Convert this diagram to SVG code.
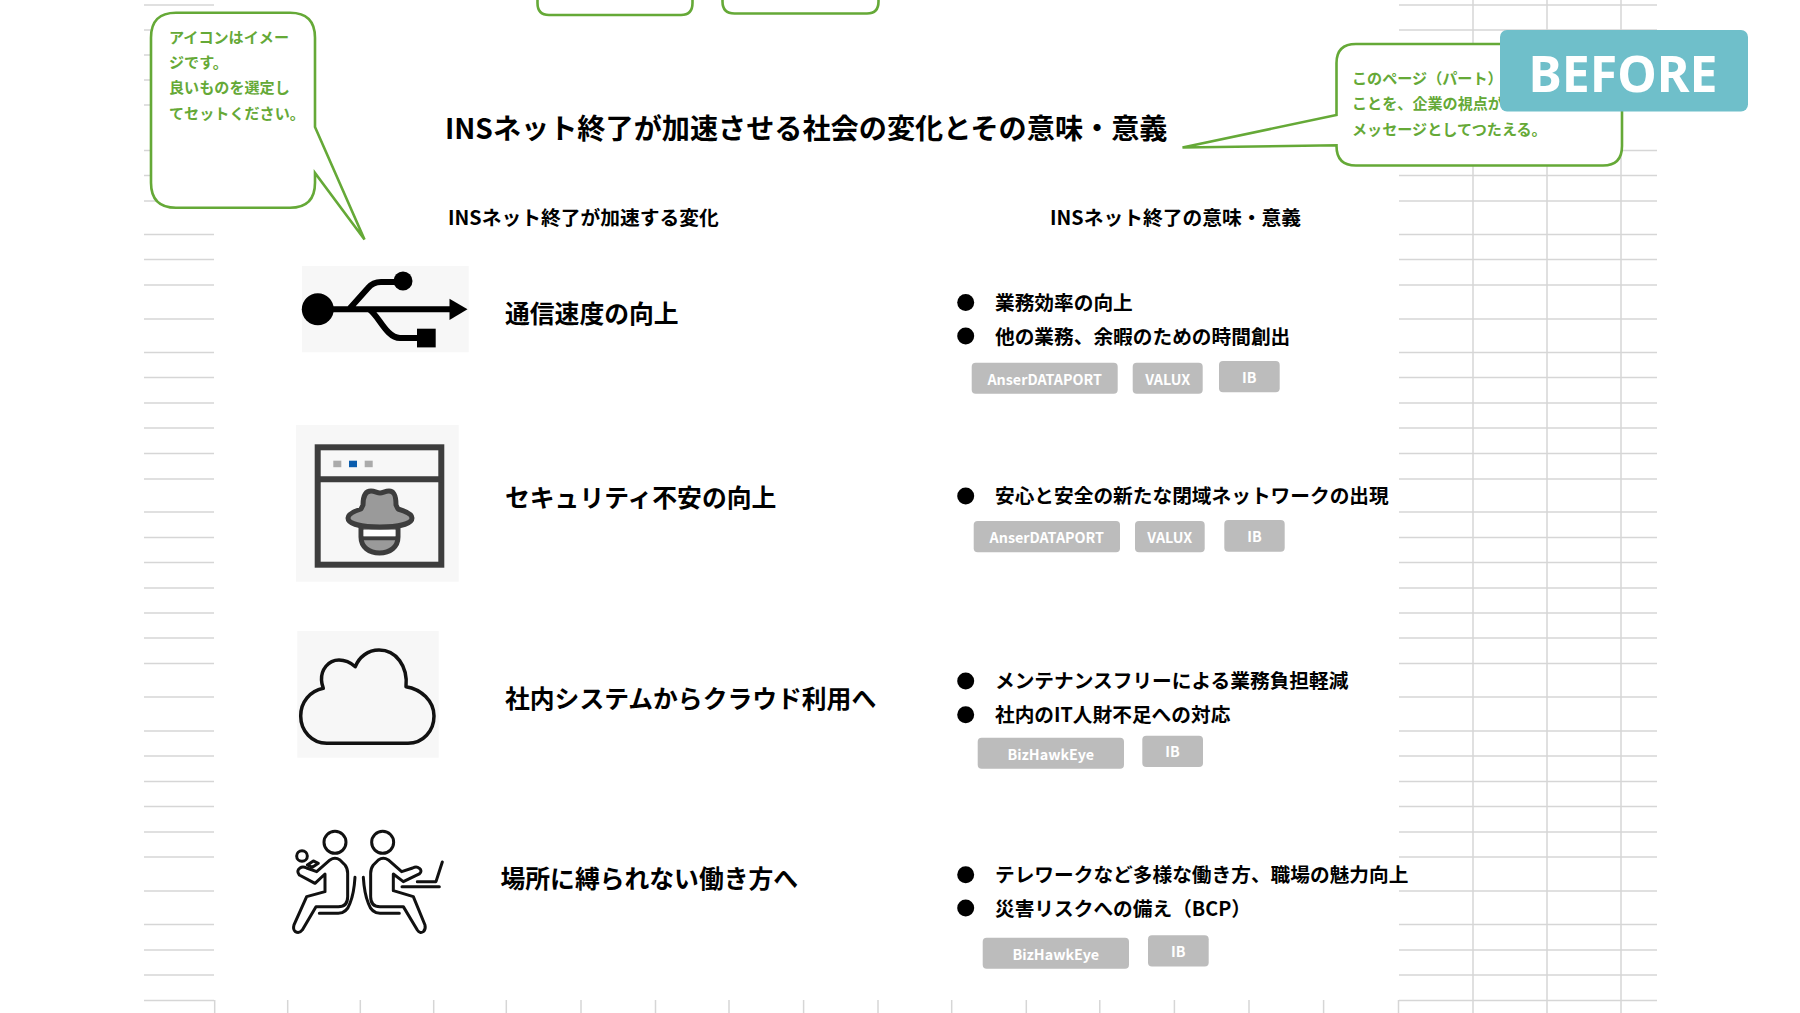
<svg xmlns="http://www.w3.org/2000/svg" width="1800" height="1013" viewBox="0 0 1800 1013">
<style>
text{font-family:"Noto Sans CJK JP","Noto Sans",sans-serif;font-weight:700;fill:#000}
.grid line{stroke:#d6d6d6;stroke-width:1.5}
.call{fill:#fff;stroke:#65a937;stroke-width:2.6;stroke-linejoin:miter}
.callt{font-size:15.1px;fill:#65a937}
.bg{fill:#f7f7f7}
.t1{font-size:24.8px}
.t2{font-size:19.7px;font-weight:600}
.t3{font-size:19.75px}
.tag{fill:#bcbcbc}
.tagt{font-size:14.3px;fill:#fff;text-anchor:middle}
.ln{fill:none;stroke:#111;stroke-width:9;stroke-linejoin:round;stroke-linecap:round}
</style>
<defs>
<circle id="dot" r="8.5" fill="#000"/>
</defs>
<g id="grid" class="grid">
<g id="grid-left">
<line x1="144" x2="214" y1="5" y2="5"/><line x1="144" x2="214" y1="30" y2="30"/><line x1="144" x2="214" y1="55" y2="55"/><line x1="144" x2="214" y1="80" y2="80"/><line x1="144" x2="214" y1="105" y2="105"/><line x1="144" x2="214" y1="150.5" y2="150.5"/><line x1="144" x2="214" y1="175.5" y2="175.5"/><line x1="144" x2="214" y1="201" y2="201"/><line x1="144" x2="214" y1="234.5" y2="234.5"/><line x1="144" x2="214" y1="259.5" y2="259.5"/><line x1="144" x2="214" y1="285" y2="285"/><line x1="144" x2="214" y1="319" y2="319"/><line x1="144" x2="214" y1="352.5" y2="352.5"/><line x1="144" x2="214" y1="377.5" y2="377.5"/><line x1="144" x2="214" y1="403" y2="403"/><line x1="144" x2="214" y1="428" y2="428"/><line x1="144" x2="214" y1="453.5" y2="453.5"/><line x1="144" x2="214" y1="479" y2="479"/><line x1="144" x2="214" y1="512" y2="512"/><line x1="144" x2="214" y1="537.5" y2="537.5"/><line x1="144" x2="214" y1="562.5" y2="562.5"/><line x1="144" x2="214" y1="588" y2="588"/><line x1="144" x2="214" y1="613" y2="613"/><line x1="144" x2="214" y1="638" y2="638"/><line x1="144" x2="214" y1="663.5" y2="663.5"/><line x1="144" x2="214" y1="697" y2="697"/><line x1="144" x2="214" y1="731" y2="731"/><line x1="144" x2="214" y1="756" y2="756"/><line x1="144" x2="214" y1="781.5" y2="781.5"/><line x1="144" x2="214" y1="806.5" y2="806.5"/><line x1="144" x2="214" y1="832" y2="832"/><line x1="144" x2="214" y1="857" y2="857"/><line x1="144" x2="214" y1="891" y2="891"/><line x1="144" x2="214" y1="924.5" y2="924.5"/><line x1="144" x2="214" y1="950" y2="950"/><line x1="144" x2="214" y1="975" y2="975"/><line x1="144" x2="214" y1="1000.5" y2="1000.5"/>
</g>
<g id="grid-right">
<line x1="1399" x2="1657" y1="5" y2="5"/><line x1="1399" x2="1657" y1="30" y2="30"/><line x1="1399" x2="1657" y1="150.5" y2="150.5"/><line x1="1399" x2="1657" y1="175.5" y2="175.5"/><line x1="1399" x2="1657" y1="201" y2="201"/><line x1="1399" x2="1657" y1="234.5" y2="234.5"/><line x1="1399" x2="1657" y1="259.5" y2="259.5"/><line x1="1399" x2="1657" y1="285" y2="285"/><line x1="1399" x2="1657" y1="319" y2="319"/><line x1="1399" x2="1657" y1="352.5" y2="352.5"/><line x1="1399" x2="1657" y1="377.5" y2="377.5"/><line x1="1399" x2="1657" y1="403" y2="403"/><line x1="1399" x2="1657" y1="428" y2="428"/><line x1="1399" x2="1657" y1="453.5" y2="453.5"/><line x1="1399" x2="1657" y1="479" y2="479"/><line x1="1399" x2="1657" y1="512" y2="512"/><line x1="1399" x2="1657" y1="537.5" y2="537.5"/><line x1="1399" x2="1657" y1="562.5" y2="562.5"/><line x1="1399" x2="1657" y1="588" y2="588"/><line x1="1399" x2="1657" y1="613" y2="613"/><line x1="1399" x2="1657" y1="638" y2="638"/><line x1="1399" x2="1657" y1="663.5" y2="663.5"/><line x1="1399" x2="1657" y1="697" y2="697"/><line x1="1399" x2="1657" y1="731" y2="731"/><line x1="1399" x2="1657" y1="756" y2="756"/><line x1="1399" x2="1657" y1="781.5" y2="781.5"/><line x1="1399" x2="1657" y1="806.5" y2="806.5"/><line x1="1399" x2="1657" y1="832" y2="832"/><line x1="1399" x2="1657" y1="857" y2="857"/><line x1="1399" x2="1657" y1="891" y2="891"/><line x1="1399" x2="1657" y1="924.5" y2="924.5"/><line x1="1399" x2="1657" y1="950" y2="950"/><line x1="1399" x2="1657" y1="975" y2="975"/><line x1="1399" x2="1657" y1="1000.5" y2="1000.5"/>
<line x1="1473" x2="1473" y1="0" y2="1013"/><line x1="1547" x2="1547" y1="0" y2="1013"/><line x1="1621" x2="1621" y1="0" y2="1013"/>
</g>
<g id="grid-ticks">
<line x1="214.7" x2="214.7" y1="1000" y2="1013"/><line x1="287.7" x2="287.7" y1="1000" y2="1013"/><line x1="360.3" x2="360.3" y1="1000" y2="1013"/><line x1="433.7" x2="433.7" y1="1000" y2="1013"/><line x1="506.3" x2="506.3" y1="1000" y2="1013"/><line x1="581" x2="581" y1="1000" y2="1013"/><line x1="655.5" x2="655.5" y1="1000" y2="1013"/><line x1="729" x2="729" y1="1000" y2="1013"/><line x1="803.6" x2="803.6" y1="1000" y2="1013"/><line x1="878" x2="878" y1="1000" y2="1013"/><line x1="951.7" x2="951.7" y1="1000" y2="1013"/><line x1="1026.3" x2="1026.3" y1="1000" y2="1013"/><line x1="1099.8" x2="1099.8" y1="1000" y2="1013"/><line x1="1174.4" x2="1174.4" y1="1000" y2="1013"/><line x1="1249" x2="1249" y1="1000" y2="1013"/><line x1="1323.6" x2="1323.6" y1="1000" y2="1013"/><line x1="1398.5" x2="1398.5" y1="1000" y2="1013"/>
</g>
</g>
<g id="top-boxes">
<path class="call" d="M537.500 -4V3Q537.500 15 549 15H681Q692.500 15 692.500 3V-4"/>
<path class="call" d="M722.500 -4V1.500Q722.500 13.500 734.500 13.500H867Q878.500 13.500 878.500 1.500V-4"/>
</g>
<g id="callout-left">
<path class="call" d="M176 12.700H290Q315 12.700 315 37.700V127L364.500 239.500L315 173V182.700Q315 207.700 290 207.700H176Q151 207.700 151 182.700V37.700Q151 12.700 176 12.700Z"/>
<text class="callt" x="169" y="42.500">アイコンはイメー</text>
<text class="callt" x="169" y="68">ジです。</text>
<text class="callt" x="169" y="93">良いものを選定し</text>
<text class="callt" x="169" y="118.500">てセットください。</text>
</g>
<g id="callout-right">
<path class="call" d="M1356 44H1603Q1622 44 1622 63V146Q1622 165.500 1603 165.500H1356Q1336.500 165.500 1336.500 146V145.300L1182.500 147.500L1336.500 115V63Q1336.500 44 1356 44Z"/>
<text class="callt" x="1352" y="84">このページ（パート）</text>
<text class="callt" x="1352" y="109">ことを、企業の視点が</text>
<text class="callt" x="1352" y="134.500">メッセージとしてつたえる。</text>
</g>
<g id="before">
<rect x="1500" y="30" width="248" height="81.500" rx="7" fill="#6fbfca"/>
<text x="1623" y="91.500" font-size="50" text-anchor="middle" style="fill:#fff;font-family:'Noto Sans','Noto Sans CJK JP',sans-serif;font-weight:700">BEFORE</text>
</g>
<g id="title">
<text x="445" y="139" font-size="28.15">INSネット終了が加速させる社会の変化とその意味・意義</text>
</g>
<g id="heading-left"><text class="t3" x="448" y="224.800">INSネット終了が加速する変化</text></g>
<g id="heading-right"><text class="t3" x="1050" y="224.800">INSネット終了の意味・意義</text></g>
<g id="icon-usb">
<rect class="bg" x="302" y="266" width="166.700" height="86.300"/>
<circle cx="317.800" cy="309.300" r="16"/>
<circle cx="403" cy="281" r="9.500"/>
<rect x="417" y="328.700" width="18.700" height="18.700"/>
<path d="M449.500 298.700L467.500 309.300L449.500 320Z"/>
<path d="M320 309.300H452M349 309.300L368 288Q373 282 381 282H400M369 309.300C378 314 386 338 400 338H420" fill="none" stroke="#000" stroke-width="6"/>
</g>
<g id="icon-hat">
<rect class="bg" x="296" y="425" width="162.700" height="156.700"/>
<rect x="317.700" y="447.300" width="123.600" height="117.400" fill="none" stroke="#3d3d3d" stroke-width="6"/>
<line x1="317" x2="442" y1="479.300" y2="479.300" stroke="#3d3d3d" stroke-width="6"/>
<rect x="333.300" y="460.700" width="8" height="6.500" fill="#aaa"/><rect x="349" y="460.700" width="8" height="6.500" fill="#0a5cad"/><rect x="364.700" y="460.700" width="8" height="6.500" fill="#aaa"/>
<path d="M361 526V537C361 547 369 553 379.500 553C390 553 398 547 398 537V526Z" fill="#9a9a9a" stroke="#3d3d3d" stroke-width="5"/>
<rect x="363.500" y="530" width="32" height="6" fill="#fff"/>
<line x1="362" x2="397" y1="538.500" y2="538.500" stroke="#3d3d3d" stroke-width="3.500"/>
<path d="M363 505C363 495 366 491 371 491C375 491 377 493 380 493C383 493 385 491 389 491C394 491 396 495 396 505L398 509C405 511 412 514 412 518C412 524 398 527 380 527C362 527 348 524 348 518C348 514 355 511 361 509Z" fill="#9a9a9a" stroke="#3d3d3d" stroke-width="5" stroke-linejoin="round"/>
</g>
<g id="icon-cloud">
<rect class="bg" x="297.300" y="631" width="141.400" height="126.700"/>
<path d="M326.700 743.300H408C423 743.300 434 731 434 716C434 701 421 689 406 686.700C408 666 396 650 379 650C368 650 359 657 355.300 666.700C350 662 345 660 339 660C328 660 321 670 321.500 680C321.500 683 322.500 686 323.300 688.300C310 691 300.700 702 300.700 716C300.700 731 312 743.300 326.700 743.300Z" fill="none" stroke="#111" stroke-width="3.500" stroke-linejoin="round"/>
</g>
<g id="icon-people" transform="translate(280 620) scale(.3333)">
<circle class="ln" cx="165" cy="667" r="33"/>
<circle class="ln" cx="308" cy="667" r="33"/>
<circle class="ln" cx="66" cy="708" r="16"/>
<path class="ln" d="M150 720Q165 710 180 720L195 735Q203 745 203 760V830Q203 860 175 860H108L67 930Q58 942 46 935Q38 928 42 915L80 830L135 815V762L105 790L58 765Q48 752 60 744Q68 738 80 744L110 755Z"/>
<path class="ln" d="M325 720Q310 710 295 720L280 735Q272 745 272 760V830Q272 860 300 860H370L412 930Q420 942 430 935Q438 928 435 915L400 830L340 812V762L370 785L418 762Q428 752 418 745Q410 738 398 744L365 755Z"/>
<path class="ln" d="M82 735L100 723L115 730L97 742Z"/>
<path class="ln" d="M225 772Q222 820 210 850Q200 880 175 880H118"/>
<path class="ln" d="M250 772Q253 820 265 850Q275 880 300 880H358"/>
<path class="ln" d="M366 800H478M412 785H468L487 726"/>
</g>
<g id="row1">
<text class="t1" x="505" y="323.200">通信速度の向上</text>
<use href="#dot" x="965.700" y="302.500"/><text class="t2" x="995" y="309.600">業務効率の向上</text>
<use href="#dot" x="965.700" y="336"/><text class="t2" x="995" y="343.500">他の業務、余暇のための時間創出</text>
<rect class="tag" x="971.700" y="362.700" width="146" height="31" rx="4"/><text class="tagt" x="1044.700" y="384.500">AnserDATAPORT</text>
<rect class="tag" x="1132.700" y="362.700" width="70" height="31" rx="4"/><text class="tagt" x="1167.700" y="384.500">VALUX</text>
<rect class="tag" x="1219" y="361" width="60.700" height="31.300" rx="4"/><text class="tagt" x="1249.300" y="382.500">IB</text>
</g>
<g id="row2">
<text class="t1" x="505" y="507.200">セキュリティ不安の向上</text>
<use href="#dot" x="965.700" y="496"/><text class="t2" x="995" y="503.300">安心と安全の新たな閉域ネットワークの出現</text>
<rect class="tag" x="973.700" y="521" width="146.300" height="31.300" rx="4"/><text class="tagt" x="1046.800" y="542.800">AnserDATAPORT</text>
<rect class="tag" x="1135" y="521" width="69.700" height="31.300" rx="4"/><text class="tagt" x="1169.800" y="542.800">VALUX</text>
<rect class="tag" x="1224.300" y="520" width="60.400" height="31.700" rx="4"/><text class="tagt" x="1254.500" y="541.500">IB</text>
</g>
<g id="row3">
<text class="t1" x="505" y="708.200">社内システムからクラウド利用へ</text>
<use href="#dot" x="965.700" y="681"/><text class="t2" x="995" y="688.300">メンテナンスフリーによる業務負担軽減</text>
<use href="#dot" x="965.700" y="714.700"/><text class="t2" x="995" y="721.800">社内のIT人財不足への対応</text>
<rect class="tag" x="977.700" y="737.700" width="146.300" height="31" rx="4"/><text class="tagt" x="1050.800" y="759.500">BizHawkEye</text>
<rect class="tag" x="1142.300" y="735.700" width="60.700" height="31.300" rx="4"/><text class="tagt" x="1172.600" y="756.500">IB</text>
</g>
<g id="row4">
<text class="t1" x="500.500" y="888">場所に縛られない働き方へ</text>
<use href="#dot" x="965.700" y="874.700"/><text class="t2" x="995" y="881.800">テレワークなど多様な働き方、職場の魅力向上</text>
<use href="#dot" x="965.700" y="908"/><text class="t2" x="995" y="915.500">災害リスクへの備え（BCP）</text>
<rect class="tag" x="982.700" y="937.700" width="146.300" height="31" rx="4"/><text class="tagt" x="1055.800" y="959.500">BizHawkEye</text>
<rect class="tag" x="1148" y="935.300" width="60.700" height="31.300" rx="4"/><text class="tagt" x="1178.300" y="956.500">IB</text>
</g>
</svg>
